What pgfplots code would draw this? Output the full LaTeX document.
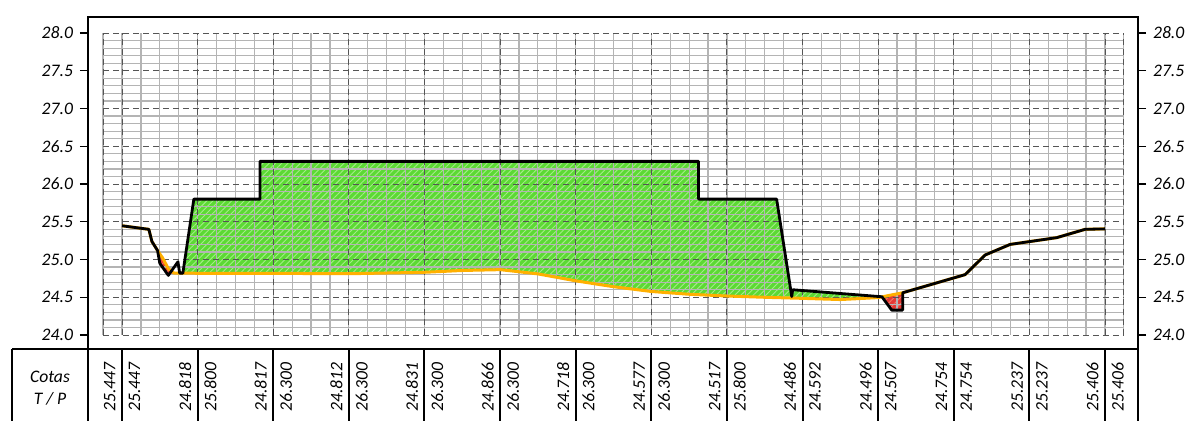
\documentclass[border=0pt]{standalone}
\usepackage{fontspec}
\setmainfont{Carlito}
\usepackage{pgfplots}
\usepackage{pgfplotstable}
\pgfplotsset{compat=1.18}
\usetikzlibrary{patterns.meta}
\definecolor{fillgreen}{HTML}{5CD934}
\definecolor{hatchgreen}{HTML}{A4EC88}
\definecolor{fillred}{HTML}{E53935}
\definecolor{hatchred}{HTML}{F47A6A}
\definecolor{terrain}{HTML}{FFB000}
\definecolor{minorgrid}{HTML}{B4B4B4}
\definecolor{majorgrid}{HTML}{555555}

\pgfplotstableread{
x y
0 25.447
1.42 25.40
1.58 25.24
1.88 25.12
2.00 24.95
2.45 24.79
2.96 24.97
3.05 24.82
3.22 24.82
3.80 25.80
7.30 25.80
7.30 26.30
30.50 26.30
30.50 25.80
34.63 25.80
35.43 24.51
35.48 24.60
40.20 24.507
40.72 24.33
41.30 24.33
41.30 24.56
44.60 24.80
45.66 25.06
46.98 25.20
49.45 25.29
50.95 25.40
52.00 25.406
}\project

\pgfplotstableread{
x y
0 25.447
1.42 25.40
1.58 25.24
1.88 25.12
2.15 25.02
2.45 24.88
2.75 24.82
3.22 24.82
4 24.818
8 24.817
12 24.812
16 24.831
18 24.855
20 24.866
22 24.81
24 24.718
26 24.64
28 24.577
30 24.54
32 24.517
34 24.50
36 24.486
38 24.47
40 24.496
41.30 24.56
44.60 24.80
45.66 25.06
46.98 25.20
49.45 25.29
50.95 25.40
52.00 25.406
}\terrainline

\pgfplotstableread{
x y
3.22 24.82
3.80 25.80
7.30 25.80
7.30 26.30
30.50 26.30
30.50 25.80
34.63 25.80
35.43 24.51
34 24.50
32 24.517
30 24.54
28 24.577
26 24.64
24 24.718
22 24.81
20 24.866
18 24.855
16 24.831
12 24.812
8 24.817
4 24.818
}\greenA

\pgfplotstableread{
x y
35.48 24.60
40.20 24.507
40 24.496
38 24.47
36 24.486
35.48 24.49
}\greenB

\pgfplotstableread{
x y
1.88 25.12
2.00 24.95
2.45 24.79
2.75 24.82
2.45 24.88
2.15 25.02
}\redA

\pgfplotstableread{
x y
40.20 24.507
40.72 24.33
41.30 24.33
41.30 24.56
}\redB

\begin{document}
\begin{tikzpicture}[font=\fontsize{8.8}{10.6}\selectfont]
\pgfplotsset{
  base/.style={
    scale only axis, width=525pt, height=166pt,
    xmin=-1.799, xmax=53.75, ymin=23.815, ymax=28.212,
    xtick=\empty, ytick={24,24.5,...,28},
    tick align=outside, major tick length=4pt,
    tick style={black, line width=0.7pt},
    axis line style={line width=1pt},
    yticklabel={\pgfmathprintnumber[fixed, fixed zerofill, precision=1, assume math mode=true]{\tick}},
    yticklabel style={font=\fontsize{8.8}{10}\selectfont\itshape},
    clip=false,
  },
  greenfill/.style={draw=none, fill=fillgreen,
    postaction={pattern={Lines[angle=45,distance=2.2pt,line width=0.45pt]}, pattern color=hatchgreen}},
  redfill/.style={draw=none, fill=fillred,
    postaction={pattern={Lines[angle=45,distance=2.2pt,line width=0.45pt]}, pattern color=hatchred}},
}
\begin{axis}[base, ytick pos=left]
% fills
\addplot[greenfill] table {\greenA};
\addplot[greenfill] table {\greenB};
\addplot[redfill] table {\redA};
\addplot[redfill] table {\redB};
% minor grid
\pgfplotsinvokeforeach{-1,...,53}{\draw[minorgrid, line width=0.6pt] (axis cs:#1,24) -- (axis cs:#1,28);}
\pgfplotsinvokeforeach{24.1,24.2,24.3,24.4,24.6,24.7,24.8,24.9,25.1,25.2,25.3,25.4,25.6,25.7,25.8,25.9,26.1,26.2,26.3,26.4,26.6,26.7,26.8,26.9,27.1,27.2,27.3,27.4,27.6,27.7,27.8,27.9}{\draw[minorgrid, line width=0.6pt] (axis cs:-1,#1) -- (axis cs:53,#1);}
% major grid
\pgfplotsinvokeforeach{-1,0,4,8,12,16,20,24,28,32,36,40,44,48,52,53}{\draw[majorgrid, densely dashed, line width=0.45pt] (axis cs:#1,24) -- (axis cs:#1,28);}
\pgfplotsinvokeforeach{24,24.5,25,25.5,26,26.5,27,27.5,28}{\draw[majorgrid, densely dashed, line width=0.45pt] (axis cs:-1,#1) -- (axis cs:53,#1);}
% lines
\addplot[terrain, line width=1.5pt, line join=round] table {\terrainline};
\addplot[black, line width=1.4pt, line join=round] table {\project};
% table
\draw[black, line width=1pt] (axis cs:-5.819,23.815) -- (axis cs:53.75,23.815);
\pgfplotsinvokeforeach{-5.819,-1.799,0,4,8,12,16,20,24,28,32,36,40,44,48,52,53.75}{\draw[black, line width=1pt] (axis cs:#1,23.815) -- (axis cs:#1,22.7);}
\pgfplotsextra{
  \node[align=center, font=\fontsize{8.8}{11}\selectfont\itshape] at (axis cs:-3.809,23.30) {Cotas\\T / P};
  \foreach \xx/\ta/\pa in {0/25.447/25.447, 4/24.818/25.800, 8/24.817/26.300, 12/24.812/26.300,
      16/24.831/26.300, 20/24.866/26.300, 24/24.718/26.300, 28/24.577/26.300,
      32/24.517/25.800, 36/24.486/24.592, 40/24.496/24.507, 44/24.754/24.754,
      48/25.237/25.237, 52/25.406/25.406}{
    \node[xshift=-3pt, rotate=90, anchor=south west, inner sep=0pt, font=\fontsize{8.8}{10}\selectfont\itshape] at (axis cs:\xx,22.98) {\ta};
    \node[xshift=3.2pt, rotate=90, anchor=north west, inner sep=0pt, font=\fontsize{8.8}{10}\selectfont\itshape] at (axis cs:\xx,22.98) {\pa};
  }
  \coordinate (bbLL) at (axis cs:-6.454,22.874);
  \coordinate (bbUR) at (axis cs:56.445,28.437);
}
\end{axis}
\begin{axis}[base, ytick pos=right, yticklabel pos=right]
\end{axis}
\pgfresetboundingbox
\path[use as bounding box] (bbLL) rectangle (bbUR);
\end{tikzpicture}
\end{document}
